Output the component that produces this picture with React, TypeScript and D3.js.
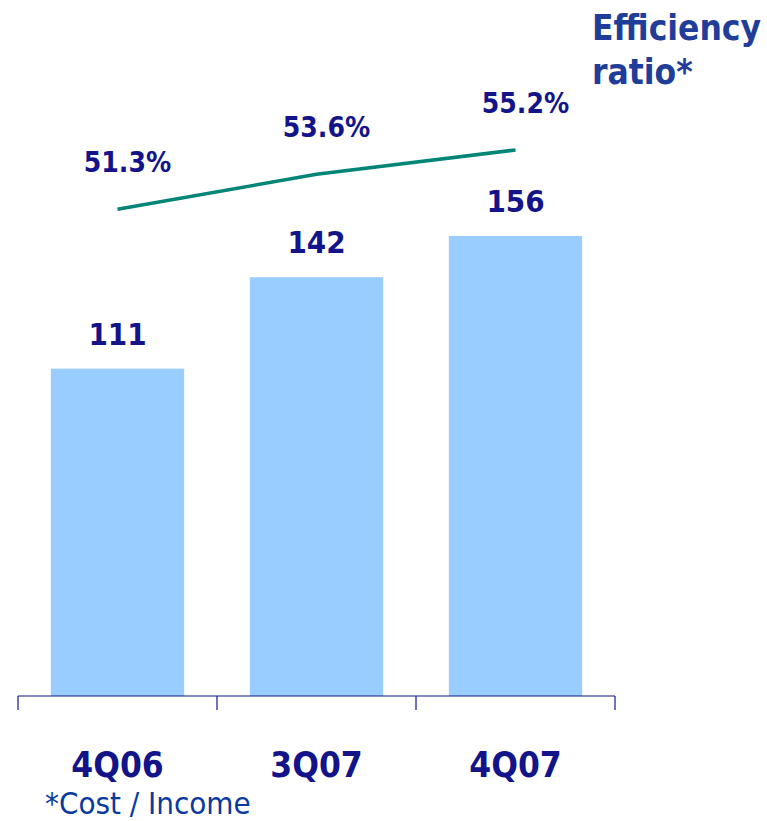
import React from "react";
import * as d3 from "d3";

const categories = ["4Q06", "3Q07", "4Q07"];
const barValues = [111, 142, 156];
const ratioValues = [51.3, 53.6, 55.2];
const ratioLabels = ["51.3%", "53.6%", "55.2%"];

const W = 767;
const H = 821;
const FONT = "'Liberation Sans Narrow', 'Arial Narrow', 'DejaVu Sans Condensed', sans-serif";
const NAVY = "#14148a";

export default function App() {
  const x = d3.scaleBand<string>().domain(categories).range([18, 615]).paddingInner(0.33).paddingOuter(0.165);
  const y = d3.scaleLinear().domain([0, 236]).range([696, 0]);
  const yr = d3.scaleLinear().domain([40, 60]).range([381, 77]);
  const cx = (c: string) => (x(c) as number) + x.bandwidth() / 2;
  const line = d3.line<number>().x((_, i) => cx(categories[i])).y((d) => yr(d));
  const tickXs = [0, 1, 2, 3].map((i) => 18 + i * x.step());

  return (
    <svg width={W} height={H} style={{ position: "absolute", left: 0, top: 0, background: "#fff" }}>
      {categories.map((c, i) => (
        <rect key={c} x={x(c)} y={y(barValues[i])} width={x.bandwidth()} height={y(0) - y(barValues[i])} fill="#99ccff" />
      ))}
      <line x1={18} x2={615} y1={696} y2={696} stroke={NAVY} strokeWidth={1.2} />
      {tickXs.map((t, i) => (
        <line key={i} x1={t} x2={t} y1={696} y2={710} stroke={NAVY} strokeWidth={1.2} />
      ))}
      <path d={line(ratioValues) || ""} fill="none" stroke="#008577" strokeWidth={3.5} />
      {categories.map((c, i) => (
        <text key={"b" + c} x={cx(c)} y={y(barValues[i]) - 24} textAnchor="middle" fontFamily={FONT} fontWeight="bold" fontSize={31} fill={NAVY}>
          {barValues[i]}
        </text>
      ))}
      {categories.map((c, i) => (
        <text key={"r" + c} x={cx(c) + 10} y={yr(ratioValues[i]) - 37} textAnchor="middle" fontFamily={FONT} fontWeight="bold" fontSize={28} fill={NAVY}>
          {ratioLabels[i]}
        </text>
      ))}
      {categories.map((c) => (
        <text key={"c" + c} x={cx(c)} y={777} textAnchor="middle" fontFamily={FONT} fontWeight="bold" fontSize={35} fill={NAVY}>
          {c}
        </text>
      ))}
      <text x={592} y={40} fontFamily={FONT} fontWeight="bold" fontSize={35} fill="#1f3d99">Efficiency</text>
      <text x={592} y={84} fontFamily={FONT} fontWeight="bold" fontSize={35} fill="#1f3d99">ratio*</text>
      <text x={45} y={814} fontFamily={FONT} fontSize={31} fill="#0a3a9e">*Cost / Income</text>
    </svg>
  );
}
